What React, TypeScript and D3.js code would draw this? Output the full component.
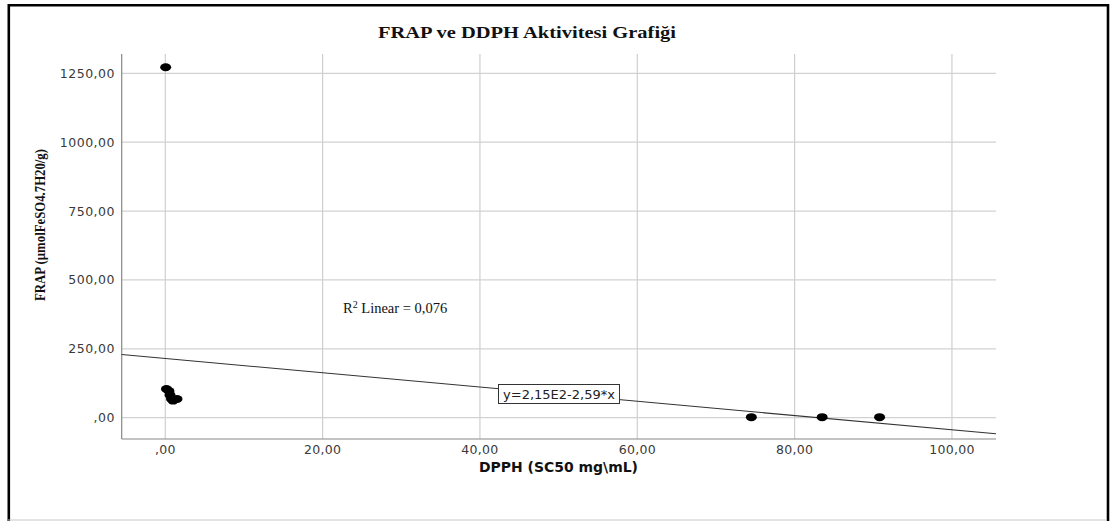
import React from 'react';
import * as d3 from 'd3';

// DPPH (x) and FRAP (y) values
const dpph = [0.05, 0.15, 0.47, 0.6, 0.79, 0.98, 1.49, 74.5, 83.5, 90.8];
const frap = [1272, 104, 97, 82, 68, 62, 68, 2, 2, 2];

const xTicks = [0, 20, 40, 60, 80, 100];
const yTicks = [0, 250, 500, 750, 1000, 1250];

// linear fit shown on the chart: y = 2,15E2 - 2,59*x
const fitCoef = [215, -2.59];

const fmt = (v: number) => (v === 0 ? ',00' : v.toFixed(2).replace('.', ','));

const App = () => {
  const width = 1115;
  const height = 521;
  const plot = { left: 121.7, right: 996, top: 54, bottom: 439 };

  const x = d3.scaleLinear().domain([-5.54, 105.6]).range([plot.left, plot.right]);
  const y = d3.scaleLinear().domain([-77.3, 1320]).range([plot.bottom, plot.top]);

  const dom = x.domain();
  const fitLine = d3.line<number>()
    .x(d => x(d))
    .y(d => y(fitCoef[0] + fitCoef[1] * d));

  return (
    <svg width={width} height={height} style={{ position: 'absolute', left: 0, top: 0, background: '#fff' }}>
      {/* outer frame */}
      <line x1={8.8} y1={5.3} x2={1108} y2={5.3} stroke="#000" strokeWidth={2.6} />
      <line x1={8.8} y1={4} x2={8.8} y2={521} stroke="#000" strokeWidth={2.6} />
      <line x1={1108} y1={4} x2={1108} y2={521} stroke="#000" strokeWidth={2.6} />
      <line x1={8} y1={520} x2={1107} y2={520} stroke="#c8c8c8" strokeWidth={1} />

      <text x={378} y={38} fontFamily="Liberation Serif" fontWeight="bold" fontSize={16.5} fill="#111"
        textLength={298} lengthAdjust="spacingAndGlyphs">
        FRAP ve DDPH Aktivitesi Grafiği
      </text>

      {/* grid */}
      {yTicks.map(t => (
        <line key={'gy' + t} x1={plot.left} x2={plot.right} y1={y(t)} y2={y(t)} stroke="#d2d2d2" strokeWidth={1.2} />
      ))}
      {xTicks.map(t => (
        <line key={'gx' + t} x1={x(t)} x2={x(t)} y1={plot.top} y2={plot.bottom} stroke="#cfcfcf" strokeWidth={1.2} />
      ))}

      {/* axes */}
      <line x1={plot.left} x2={plot.left} y1={plot.top} y2={plot.bottom} stroke="#888" strokeWidth={1.2} />
      <line x1={plot.left} x2={plot.right} y1={plot.bottom} y2={plot.bottom} stroke="#888" strokeWidth={1.2} />

      {yTicks.map(t => (
        <text key={'ly' + t} x={115} y={y(t) + 4.5} textAnchor="end" fontFamily="DejaVu Sans" fontSize={12.5}
          letterSpacing={0.5} fill="#3a3a3a">
          {fmt(t)}
        </text>
      ))}
      {xTicks.map(t => (
        <text key={'lx' + t} x={x(t)} y={454} textAnchor="middle" fontFamily="DejaVu Sans" fontSize={12.5}
          letterSpacing={0.3} fill="#3a3a3a">
          {fmt(t)}
        </text>
      ))}

      <text x={479} y={472} fontFamily="DejaVu Sans" fontWeight="bold" fontSize={13.5} fill="#111"
        textLength={159} lengthAdjust="spacingAndGlyphs">
        DPPH (SC50 mg\mL)
      </text>
      <text
        transform="translate(45,225) rotate(-90)"
        textAnchor="middle"
        fontFamily="Liberation Serif"
        fontWeight="bold"
        fontSize={14}
        fill="#111"
        textLength={152}
        lengthAdjust="spacingAndGlyphs"
      >
        FRAP (µmolFeSO4.7H20/g)
      </text>

      {/* fit line */}
      <path d={fitLine([dom[0], dom[1]]) || ''} fill="none" stroke="#333" strokeWidth={1.1} />

      {/* points */}
      {dpph.map((d, i) => (
        <ellipse key={'p' + i} cx={x(d)} cy={y(frap[i])} rx={5.5} ry={4} fill="#000" />
      ))}

      {/* annotations */}
      <text x={343} y={313} fontFamily="Liberation Serif" fontSize={14.5} fill="#111">
        R<tspan dy={-5} fontSize={10}>2</tspan>
        <tspan dy={5}> Linear = 0,076</tspan>
      </text>
      <rect x={498.5} y={384.5} width={121} height={19} fill="#fff" stroke="#333" strokeWidth={1} />
      <text x={559} y={399} textAnchor="middle" fontFamily="DejaVu Sans" fontSize={13} fill="#222">
        y=2,15E2-2,59*x
      </text>
    </svg>
  );
};

export default App;
